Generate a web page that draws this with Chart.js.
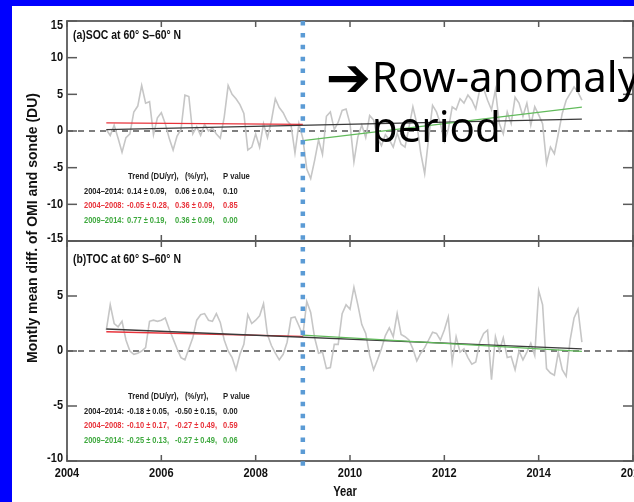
<!DOCTYPE html>
<html>
<head>
<meta charset="utf-8">
<title>OMI - sonde ozone difference</title>
<script src="https://cdn.jsdelivr.net/npm/chart.js@4.4.1/dist/chart.umd.min.js"></script>
<style>
  html, body { margin: 0; padding: 0; }
  body { width: 634px; height: 502px; background: #0000ff; position: relative; overflow: hidden; }
  #sheet { position: absolute; left: 12px; top: 6px; right: 0; bottom: 0; background: #fff; }
  #wrap { position: absolute; left: 0; top: 0; width: 634px; height: 502px; }
</style>
</head>
<body>
<div id="sheet"></div>
<div id="wrap"><canvas id="ozone" width="634" height="502"></canvas></div>
<script>
// monthly mean OMI minus ozonesonde (DU), 60S-60N, Nov 2004 .. Dec 2014
const firstMonth = 2004 + 10 / 12;

const socDiff = [
  0.2, -0.6, 0.8, -1.0, -2.9, -0.9, -0.4, 2.6, 3.4, 6.2,
  3.8, 4.0, -0.5, 1.8, 2.5, 1.0, -1.0, -2.6, -0.7, 0.2,
  4.9, 4.7, -0.4, 0.6, -0.6, 0.9, 0.0, 0.4, -0.4, -1.0,
  1.9, 6.2, 5.0, 4.4, 3.6, 2.4, -2.6, -2.2, -0.4, -2.2,
  1.0, -0.9, 1.4, 4.4, 3.2, 2.5, 1.4, 0.8, -3.0, 1.0,
  -1.0, -5.2, -6.5, -4.0, -1.2, -3.2, 2.0, 2.6, 0.2, 1.2,
  2.8, 3.0, 1.0, -4.2, -0.8, 0.8, -0.9, 2.1, 1.5, -0.9,
  -2.0, -0.5, -1.2, -2.2, -0.3, -1.8, -2.2, 0.5, 3.3, 1.0,
  -3.0, -5.8, -1.0, 3.5, 2.6, 1.0, -1.4, 0.2, 3.3, 2.9,
  4.4, 3.8, 4.9, 4.2, 3.0, 5.6, 5.8, 4.2, 2.9, 5.6,
  1.0, -0.4, 2.6, 1.0, 4.6, 3.8, 2.0, 3.8, 0.8, 3.3,
  2.2, 1.0, -4.4, -2.2, -3.1, -0.4, 2.4, 4.2, 5.1, 6.0,
  5.3, 4.2
];

const tocDiff = [
  1.9, 4.2, 2.5, 2.2, 2.7, 1.0, 0.0, -0.3, -0.2, 0.0,
  0.3, 2.7, 2.8, 2.7, 2.8, 3.0, 2.0, 1.1, 0.2, -0.6,
  -0.8, 0.2, 1.2, 2.8, 3.3, 3.4, 2.8, 2.7, 3.4, 2.6,
  1.0, 0.0, -0.6, -1.7, -0.3, 0.6, 3.3, 2.5, 2.8, 3.2,
  4.3, 1.5, 0.5, -0.2, -0.8, -0.3, 0.8, 3.0, 3.1, 2.3,
  1.4, 4.5, 3.5, 1.2, -0.2, -0.1, -1.6, -1.5, 0.6, 0.6,
  3.4, 4.2, 3.8, 5.8, 4.2, 2.4, 1.6, -0.4, -1.7, -0.8,
  0.2, 1.4, 2.1, 1.3, 3.4, 1.5, 1.3, 1.0, 0.2, -0.9,
  -0.2, 0.3, 1.0, 1.7, 1.6, 1.0, 1.9, 3.1, -1.0, 1.3,
  -0.1, 0.2, -0.6, -1.2, -1.0, 0.8, 1.6, 1.9, -2.6, 1.3,
  0.0, 1.2, -0.6, -0.5, -1.7, 0.0, -0.8, -0.1, 0.7, -0.4,
  5.5, 4.2, -1.6, -2.0, -2.2, -0.1, -1.7, -2.3, 1.0, 3.0,
  3.8, 0.8
];

const lastMonth = firstMonth + (socDiff.length - 1) / 12;
const rowAnomalyStart = 2009;

// linear trends: 2004-2014, 2004-2008, 2009-2014
const trendColors = ['#3a3a3a', '#e8333b', '#62bb5c'];
const trendFrom = [firstMonth, firstMonth, rowAnomalyStart];
const trendTo = [lastMonth, rowAnomalyStart, lastMonth];
const socSlope = [0.14, -0.05, 0.77];
const socStart = [0.2, 1.1, -1.3];
const tocSlope = [-0.18, -0.10, -0.25];
const tocStart = [2.0, 1.75, 1.45];

const statHeader = ['Trend (DU/yr),', '(%/yr),', 'P value'];
const statPeriods = ['2004\u20132014:', '2004\u20132008:', '2009\u20132014:'];
const socStats = [
  ['0.14 \u00b1 0.09,', '0.06 \u00b1 0.04,', '0.10'],
  ['-0.05 \u00b1 0.28,', '0.36 \u00b1 0.09,', '0.85'],
  ['0.77 \u00b1 0.19,', '0.36 \u00b1 0.09,', '0.00']
];
const tocStats = [
  ['-0.18 \u00b1 0.05,', '-0.50 \u00b1 0.15,', '0.00'],
  ['-0.10 \u00b1 0.17,', '-0.27 \u00b1 0.49,', '0.59'],
  ['-0.25 \u00b1 0.13,', '-0.27 \u00b1 0.49,', '0.06']
];
const statTextColors = ['#222222', '#e8333b', '#3fa93f'];

const xTicks = [2004, 2006, 2008, 2010, 2012, 2014, 2016];
const socTicks = [-15, -10, -5, 0, 5, 10, 15];
const tocTicks = [-10, -5, 0, 5];

const sans = "'Liberation Sans', Arial, sans-serif";

function series(values) {
  return values.map((v, i) => ({ x: firstMonth + i / 12, y: v }));
}

function trendSets(axis, slopes, starts) {
  return slopes.map((b, k) => ({
    data: [
      { x: trendFrom[k], y: starts[k] },
      { x: trendTo[k], y: starts[k] + b * (trendTo[k] - trendFrom[k]) }
    ],
    yAxisID: axis,
    borderColor: trendColors[k],
    borderWidth: 1.3,
    pointRadius: 0,
    order: k === 0 ? 1 : (k === 1 ? 2 : 0)
  }));
}

function line(ctx, x1, y1, x2, y2) {
  ctx.beginPath();
  ctx.moveTo(x1, y1);
  ctx.lineTo(x2, y2);
  ctx.stroke();
}

// no narrow face installed, so squeeze the glyphs horizontally
function text(ctx, str, x, y, o) {
  ctx.save();
  ctx.font = o.font;
  ctx.fillStyle = o.color || '#111';
  ctx.textAlign = o.align || 'left';
  ctx.textBaseline = o.baseline || 'alphabetic';
  ctx.translate(x, y);
  ctx.scale(o.sx || 1, 1);
  ctx.fillText(str, 0, 0);
  ctx.restore();
}

// panel frames, inward ticks, labels and the stat tables
const panelPlugin = {
  id: 'panels',
  beforeDatasetsDraw(chart) {
    const { ctx, chartArea: area, scales } = chart;
    ['ySoc', 'yToc'].forEach(id => {
      const y0 = scales[id].getPixelForValue(0);
      ctx.save();
      ctx.strokeStyle = '#555';
      ctx.lineWidth = 1.3;
      ctx.setLineDash([6, 5]);
      line(ctx, area.left, y0, area.right, y0);
      ctx.restore();
    });
  },
  afterDatasetsDraw(chart) {
    const { ctx, chartArea: area, scales } = chart;
    const x = scales.x;
    const panels = [
      { y: scales.ySoc, title: '(a)SOC at 60\u00b0 S\u201360\u00b0 N', titleDy: 17.6, stats: socStats },
      { y: scales.yToc, title: '(b)TOC at 60\u00b0 S\u201360\u00b0 N', titleDy: 21.7, stats: tocStats }
    ];
    const colX = [17, 60, 108, 156];
    const headX = [61, 118, 156];
    const rowDy = [155, 170, 184.5, 199];
    const tickFont = 'bold 12.5px ' + sans;
    const statFont = 'bold 9.6px ' + sans;

    panels.forEach(p => {
      const top = p.y.top, bottom = p.y.bottom;
      ctx.save();
      ctx.strokeStyle = '#5a5a5a';
      ctx.lineWidth = 1.8;
      ctx.strokeRect(area.left, top, area.right - area.left, bottom - top);
      ctx.lineWidth = 1.5;
      p.y.ticks.forEach(t => {
        const py = p.y.getPixelForValue(t.value);
        line(ctx, area.left, py, area.left + 10, py);
        line(ctx, area.right, py, area.right - 10, py);
        const cy = Math.min(Math.max(py, top + 4.5), bottom - 2.5);
        text(ctx, String(t.value), area.left - 4, cy, { font: tickFont, align: 'right', baseline: 'middle', sx: 0.88 });
      });
      x.ticks.forEach(t => {
        const px = x.getPixelForValue(t.value);
        line(ctx, px, top, px, top + 6);
        line(ctx, px, bottom, px, bottom - 6);
      });
      ctx.restore();

      text(ctx, p.title, area.left + 6, top + p.titleDy, { font: 'bold 12px ' + sans, sx: 0.87 });

      statHeader.forEach((h, i) =>
        text(ctx, h, area.left + headX[i], top + rowDy[0], { font: statFont, color: '#222', baseline: 'middle', sx: 0.8 }));
      p.stats.forEach((row, r) => {
        [statPeriods[r]].concat(row).forEach((c, i) =>
          text(ctx, c, area.left + colX[i], top + rowDy[r + 1],
            { font: statFont, color: statTextColors[r], baseline: 'middle', sx: 0.78 }));
      });
    });

    // year labels and axis titles
    x.ticks.forEach(t => {
      text(ctx, String(t.value), x.getPixelForValue(t.value), area.bottom + 13,
        { font: 'bold 12.5px ' + sans, align: 'center', baseline: 'middle', sx: 0.88 });
    });
    text(ctx, 'Year', (area.left + area.right) / 2 - 5, 492,
      { font: 'bold 14px ' + sans, align: 'center', baseline: 'middle', sx: 0.8 });

    ctx.save();
    ctx.translate(33, (area.top + area.bottom) / 2 - 13);
    ctx.rotate(-Math.PI / 2);
    ctx.textAlign = 'center';
    ctx.textBaseline = 'middle';
    ctx.fillStyle = '#111';
    ctx.font = 'bold 14px ' + sans;
    ctx.fillText('Montly mean diff. of OMI and sonde (DU)', 0, 0);
    ctx.restore();

    // start of the row-anomaly period
    const bx = x.getPixelForValue(rowAnomalyStart);
    ctx.save();
    ctx.strokeStyle = '#5b9bd5';
    ctx.lineWidth = 4.5;
    ctx.setLineDash([4.5, 7.4]);
    line(ctx, bx, area.top, bx, area.bottom + 9);
    ctx.restore();

    text(ctx, '\u2794', bx + 23, area.top + 75, { font: "bold 54px 'DejaVu Sans', sans-serif", color: '#000' });
    text(ctx, 'Row-anomaly', bx + 69, area.top + 71, { font: "42px 'Noto Sans', 'Open Sans', sans-serif", color: '#000' });
    text(ctx, 'period', bx + 69, area.top + 121, { font: "42px 'Noto Sans', 'Open Sans', sans-serif", color: '#000' });
  }
};

function yScale(min, max, ticks) {
  return {
    type: 'linear',
    position: 'left',
    stack: 'panels',
    stackWeight: 1,
    min: min,
    max: max,
    afterBuildTicks: s => { s.ticks = ticks.map(v => ({ value: v })); },
    afterFit: s => { s.width = 67; s.paddingTop = 0; s.paddingBottom = 0; },
    ticks: { display: false },
    grid: { display: false, drawTicks: false },
    border: { display: false }
  };
}

new Chart(document.getElementById('ozone'), {
  type: 'line',
  data: {
    datasets: [
      { data: series(socDiff), yAxisID: 'ySoc', borderColor: '#c6c6c6', borderWidth: 1.6, pointRadius: 0, order: 3 },
      ...trendSets('ySoc', socSlope, socStart),
      { data: series(tocDiff), yAxisID: 'yToc', borderColor: '#c6c6c6', borderWidth: 1.6, pointRadius: 0, order: 3 },
      ...trendSets('yToc', tocSlope, tocStart)
    ]
  },
  options: {
    responsive: false,
    animation: false,
    devicePixelRatio: 1,
    layout: { padding: { left: 0, right: 1, top: 21, bottom: 0 } },
    plugins: { legend: { display: false }, tooltip: { enabled: false } },
    scales: {
      x: {
        type: 'linear',
        position: 'bottom',
        min: 2004,
        max: 2016,
        afterBuildTicks: s => { s.ticks = xTicks.map(v => ({ value: v })); },
        afterFit: s => { s.height = 41; s.paddingLeft = 0; s.paddingRight = 0; },
        ticks: { display: false },
        grid: { display: false, drawTicks: false },
        border: { display: false }
      },
      yToc: yScale(-10, 10, tocTicks),
      ySoc: yScale(-15, 15, socTicks)
    }
  },
  plugins: [panelPlugin]
});
</script>
</body>
</html>
